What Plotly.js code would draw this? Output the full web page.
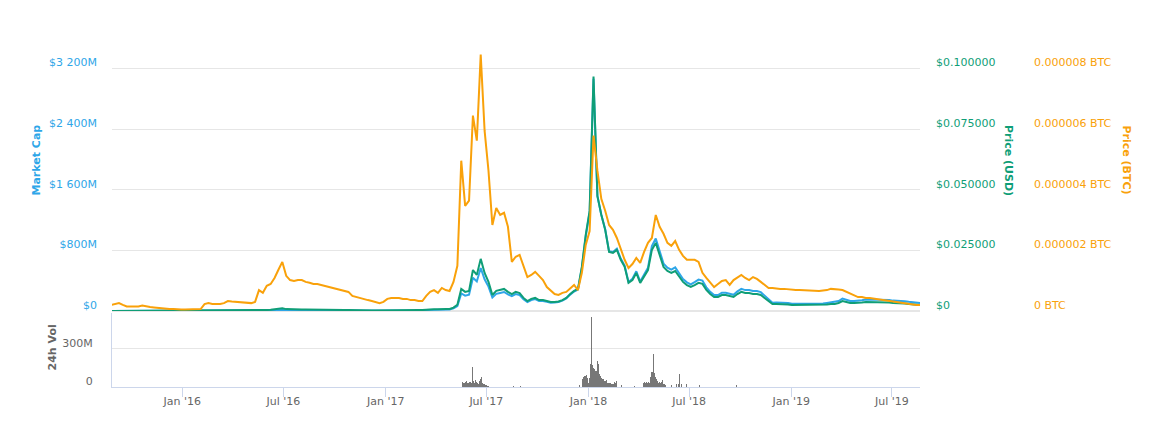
<!DOCTYPE html>
<html>
<head>
<meta charset="utf-8">
<script src="https://cdn.plot.ly/plotly-3.0.1.min.js"></script>
<style>
html,body{margin:0;padding:0;background:#fff;}
#chart{width:1159px;height:426px;}
</style>
</head>
<body>
<div id="chart"></div>
<script>
// ---- data (weekly samples starting 2015-08-26) ----
const seriesStart = '2015-08-26';
const seriesStepDays = 7;

// Market cap, in millions of USD
const marketCapM = [
0.16,0.2,0.25,0.21,0.17,0.18,0.19,0.2,0.26,0.24,
0.34,0.25,0.23,0.26,0.24,0.22,0.25,0.19,0.18,0.19,
0.17,0.19,0.18,0.24,0.89,1.1,1.03,1.09,1.07,1.25,
1.6,1.55,1.53,1.57,1.59,1.54,1.57,1.81,4.4,3.9,
6.4,7.5,11.2,13.1,16.4,12,10.3,10.5,10.8,9.5,
9.5,8.9,8.8,8.8,9.1,8.9,8.6,8.4,8.3,8.2,
8.2,8.3,6.8,6.5,6.4,6,5.7,5.1,4.8,4.6,
6.1,9.4,7.3,8.5,8.8,8.7,9.4,8.1,8.7,9.2,
9.6,13.5,15,17,16.5,22,20.4,20.8,35,66,
231,202,214,439,390,568,418,322,178,226,
238,251,220,196,223,210,154,118,145,157,
131,132,121,110,111,118,137,165,216,257,
282,568,986,1305,3065,1515,1270,1079,788,780,
822,692,599,384,425,524,389,472,571,857,
958,792,626,571,545,576,490,422,378,351,
381,414,401,313,253,210,211,241,242,228,
214,259,293,276,277,263,263,249,205,156,
110,111,111,104,104,97,97,97,94,98,
94,99,99,99,107,115,116,132,164,149,
133,133,134,142,151,151,151,152,152,144,
145,137,137,137,129,121,113,105,105
];

// Price in USD
const priceUsd = [
0.000046,0.000054,0.000063,0.000048,0.000036,0.000036,0.000036,0.000036,0.000044,0.000039,
0.000053,0.000038,0.000033,0.000036,0.000032,0.000028,0.00003,0.000022,0.000021,0.000021,
0.000019,0.00002,0.000019,0.000024,0.000088,0.000106,0.000097,0.0001,0.000096,0.00011,
0.000137,0.00013,0.000125,0.000127,0.000125,0.000119,0.000119,0.000135,0.00032,0.00028,
0.00045,0.00052,0.00076,0.00088,0.00108,0.00078,0.00066,0.00066,0.00067,0.00058,
0.00057,0.00053,0.00052,0.00051,0.00052,0.0005,0.00048,0.00046,0.00045,0.00044,
0.00043,0.00043,0.00035,0.00033,0.00032,0.0003,0.00028,0.00025,0.00023,0.00022,
0.00029,0.00044,0.00034,0.00039,0.0004,0.00039,0.00042,0.00036,0.00038,0.0004,
0.00041,0.00057,0.00063,0.00071,0.00068,0.0009,0.00083,0.00084,0.0014,0.0026,
0.0091,0.0079,0.0083,0.0169,0.0149,0.0215,0.0157,0.012,0.0066,0.0083,
0.0087,0.0091,0.0079,0.007,0.0079,0.0074,0.0054,0.0041,0.005,0.0054,
0.0045,0.0045,0.0041,0.0037,0.0037,0.0039,0.0045,0.0054,0.007,0.0083,
0.0091,0.0182,0.0314,0.0413,0.0967,0.0475,0.0397,0.0335,0.0244,0.024,
0.0252,0.0211,0.0182,0.0116,0.0128,0.0157,0.0116,0.014,0.0169,0.0252,
0.0281,0.0231,0.0182,0.0165,0.0157,0.0165,0.014,0.012,0.0107,0.0099,
0.0107,0.0116,0.0112,0.0087,0.007,0.0058,0.0058,0.0066,0.0066,0.0062,
0.0058,0.007,0.0079,0.0074,0.0074,0.007,0.007,0.0066,0.0054,0.0041,
0.0029,0.0029,0.0029,0.0027,0.0027,0.0025,0.0025,0.0025,0.0024,0.0025,
0.0024,0.0025,0.0025,0.0025,0.0027,0.0029,0.0029,0.0033,0.0041,0.0037,
0.0033,0.0033,0.0033,0.0035,0.0037,0.0037,0.0037,0.0037,0.0037,0.0035,
0.0035,0.0033,0.0033,0.0033,0.0031,0.0029,0.0027,0.0025,0.0025
];

// Price in BTC, expressed in millionths of a BTC
const priceBtcMicro = [
0.20,0.23,0.26,0.20,0.15,0.15,0.15,0.15,0.18,0.15,
0.13,0.116,0.10,0.10,0.083,0.066,0.066,0.05,0.05,0.05,
0.05,0.05,0.05,0.066,0.23,0.26,0.23,0.23,0.23,0.26,
0.33,0.31,0.30,0.30,0.28,0.26,0.26,0.30,0.69,0.60,
0.83,0.89,1.09,1.36,1.62,1.16,1.02,0.99,1.02,1.02,
0.96,0.93,0.89,0.89,0.86,0.83,0.79,0.76,0.73,0.69,
0.66,0.63,0.50,0.46,0.43,0.40,0.36,0.33,0.30,0.26,
0.30,0.40,0.43,0.43,0.43,0.40,0.40,0.36,0.36,0.33,
0.33,0.50,0.63,0.69,0.60,0.76,0.69,0.66,0.96,1.49,
4.96,3.47,3.64,6.45,5.62,8.46,5.95,4.63,2.84,3.40,
3.17,3.24,2.78,1.62,1.79,1.85,1.45,1.12,1.19,1.29,
1.16,1.02,0.79,0.66,0.56,0.53,0.60,0.63,0.76,0.86,
0.69,1.26,2.18,2.64,5.79,4.63,3.70,3.31,2.84,2.68,
2.41,2.05,1.69,1.42,1.55,1.75,1.59,1.95,2.25,2.41,
3.17,2.78,2.55,2.25,2.15,2.31,2.02,1.82,1.69,1.69,
1.69,1.62,1.26,1.09,0.93,0.79,0.89,0.99,1.02,0.86,
1.02,1.12,1.19,1.09,1.02,1.12,1.06,0.96,0.86,0.76,
0.76,0.74,0.73,0.73,0.71,0.69,0.69,0.69,0.68,0.68,
0.66,0.66,0.66,0.68,0.69,0.73,0.73,0.71,0.69,0.63,
0.56,0.50,0.46,0.46,0.43,0.43,0.41,0.40,0.36,0.35,
0.33,0.30,0.28,0.26,0.25,0.23,0.21,0.20,0.20
];

// 24h volume, millions of USD: daily runs
const volRun1Start = '2017-05-17';
const volRun1M = [0,25,40,35,28,30,30,22,38,45,50,32,28,35,30,38,45,40,30,60,160,70,45,40,35,42,55,40,30,28,35,25,30,45,50,65,80,40,30,30,22,25,20,30,18,12,10,8,15,10,8];
const volRun2Start = '2017-12-20';
const volRun2M = [40,60,100,80,70,87,84,90,95,80,75,30,30,55,70,190,185,553,180,175,160,150,135,140,130,125,130,150,205,200,180,120,100,95,90,75,70,65,70,60,55,45,40,45,55,40,35,32,30,28,30,25,30,20,18,25,22,25,40,40,30,35,45];
const volRun3Start = '2018-04-10';
const volRun3M = [30,35,40,30,35,40,45,35,30,38,40,35,50,80,118,90,120,229,260,355,110,80,79,60,55,45,40,35,38,40,35,30,38,45,55,35,25,22,25,20,15];
// isolated days
const volSparseDates = ['2017-07-11','2017-07-17','2017-07-26','2017-08-13','2017-08-19','2017-09-01','2017-12-04','2017-12-16','2018-03-01','2018-03-25','2018-05-24','2018-05-30','2018-06-08','2018-06-12','2018-06-14','2018-06-17','2018-06-26','2018-07-08','2018-07-20','2018-07-26','2018-08-31','2018-09-24','2018-10-04'];
const volSparseM = [20,12,12,8,10,8,55,15,15,10,15,12,20,25,100,20,20,15,15,10,8,15,15];

// tick labels
const capTickVals = [0, 800e6, 1600e6, 2400e6, 3200e6, 4000e6];
const capTickText = ['$0', '$800M', '$1 600M', '$2 400M', '$3 200M', ''];
const usdTickVals = [0, 0.025, 0.05, 0.075, 0.1];
const usdTickText = ['$0', '$0.025000', '$0.050000', '$0.075000', '$0.100000'];
const btcTickVals = [0, 2e-6, 4e-6, 6e-6, 8e-6];
const btcTickText = ['0 BTC', '0.000002 BTC', '0.000004 BTC', '0.000006 BTC', '0.000008 BTC'];
const volTickVals = [0, 300e6];
const volTickText = ['0', '300M'];

// ---- build ----
const DAY = 86400000;
const iso = t => new Date(t).toISOString().slice(0, 10);
const t0 = Date.parse(seriesStart);
const dates = priceUsd.map((_, i) => iso(t0 + i * seriesStepDays * DAY));
const runDates = (start, vals) => { const s = Date.parse(start); return vals.map((_, i) => iso(s + i * DAY)); };

const volX = [].concat(runDates(volRun1Start, volRun1M), runDates(volRun2Start, volRun2M), runDates(volRun3Start, volRun3M), volSparseDates);
const volY = [].concat(volRun1M, volRun2M, volRun3M, volSparseM).map(v => v * 1e6);

const BLUE = '#2ea6e8', GREEN = '#0f9e77', ORANGE = '#f9a10a', GRAY = '#666666';
const FONT = 'DejaVu Sans, Verdana, sans-serif';

const traces = [
  {x: dates, y: marketCapM.map(v => v * 1e6), type: 'scatter', mode: 'lines', xaxis: 'x', yaxis: 'y',
   line: {color: BLUE, width: 2}, name: 'Market Cap'},
  {x: dates, y: priceUsd, type: 'scatter', mode: 'lines', xaxis: 'x', yaxis: 'y2',
   line: {color: GREEN, width: 2}, name: 'Price (USD)'},
  {x: dates, y: priceBtcMicro.map(v => v * 1e-6), type: 'scatter', mode: 'lines', xaxis: 'x', yaxis: 'y3',
   line: {color: ORANGE, width: 2}, name: 'Price (BTC)'},
  {x: volX, y: volY, type: 'bar', xaxis: 'x', yaxis: 'y4', width: DAY,
   marker: {color: '#777777', line: {width: 0}}, name: '24h Vol'}
];

const L = 112, R = 20, PW = 1159 - L - R, T = 8, B = 39, PH = 426 - T - B;
const px2x = p => (p - L) / PW;
const px2y = p => (426 - B - p) / PH;

const layout = {
  width: 1159, height: 426,
  margin: {l: L, r: R, t: T, b: B, pad: 0},
  paper_bgcolor: '#ffffff', plot_bgcolor: '#ffffff',
  showlegend: false, hovermode: false, bargap: 0,
  font: {family: FONT, size: 11, color: GRAY},
  xaxis: {
    domain: [0, px2x(920)], anchor: 'y4', type: 'date',
    range: ['2015-08-27 12:00', '2019-08-20 12:00'],
    tickformat: "%b '%y", dtick: 'M6', tick0: '2016-01-01',
    ticks: 'outside', ticklen: 9, tickwidth: 1, tickcolor: '#ccd6eb',
    ticklabelstandoff: -5,
    showline: true, linecolor: '#ccd6eb', linewidth: 1,
    showgrid: false, zeroline: false,
    tickfont: {family: FONT, size: 11, color: GRAY}
  },
  yaxis: {
    domain: [px2y(311), 1], range: [0, 4000e6],
    tickmode: 'array', tickvals: capTickVals, ticktext: capTickText,
    showgrid: true, gridcolor: '#e6e6e6', gridwidth: 1,
    zeroline: true, zerolinecolor: '#e6e6e6', zerolinewidth: 2,
    showline: false, ticks: '',
    ticklabelstandoff: 14, ticklabelshift: -6,
    tickfont: {family: FONT, size: 11, color: BLUE}
  },
  yaxis2: {
    overlaying: 'y', side: 'right', anchor: 'x', range: [0, 0.125],
    tickmode: 'array', tickvals: usdTickVals, ticktext: usdTickText,
    showgrid: false, zeroline: false, showline: false, ticks: '',
    ticklabelstandoff: 15, ticklabelshift: -6,
    tickfont: {family: FONT, size: 11, color: GREEN}
  },
  yaxis3: {
    overlaying: 'y', side: 'right', anchor: 'free', position: px2x(1018), range: [0, 10e-6],
    tickmode: 'array', tickvals: btcTickVals, ticktext: btcTickText,
    showgrid: false, zeroline: false, showline: false, ticks: '',
    ticklabelstandoff: 15, ticklabelshift: -6,
    tickfont: {family: FONT, size: 11, color: ORANGE}
  },
  yaxis4: {
    domain: [0, px2y(313)], range: [0, 584e6], anchor: 'x',
    tickmode: 'array', tickvals: volTickVals, ticktext: volTickText,
    showgrid: true, gridcolor: '#e6e6e6', zeroline: false,
    showline: true, linecolor: '#ccd6eb', linewidth: 1, ticks: '',
    ticklabelstandoff: 16, ticklabelshift: -6,
    tickfont: {family: FONT, size: 11, color: GRAY}
  },
  annotations: [
    {text: '<b>Market Cap</b>', xref: 'paper', yref: 'paper', x: px2x(35.5), y: px2y(160),
     textangle: -90, showarrow: false, xanchor: 'center', yanchor: 'middle',
     font: {family: FONT, size: 11, color: BLUE}},
    {text: '<b>24h Vol</b>', xref: 'paper', yref: 'paper', x: px2x(51.5), y: px2y(348),
     textangle: -90, showarrow: false, xanchor: 'center', yanchor: 'middle',
     font: {family: FONT, size: 11, color: GRAY}},
    {text: '<b>Price (USD)</b>', xref: 'paper', yref: 'paper', x: px2x(1009), y: px2y(160),
     textangle: 90, showarrow: false, xanchor: 'center', yanchor: 'middle',
     font: {family: FONT, size: 11, color: GREEN}},
    {text: '<b>Price (BTC)</b>', xref: 'paper', yref: 'paper', x: px2x(1126.5), y: px2y(160),
     textangle: 90, showarrow: false, xanchor: 'center', yanchor: 'middle',
     font: {family: FONT, size: 11, color: ORANGE}}
  ]
};

Plotly.newPlot('chart', traces, layout, {displayModeBar: false, staticPlot: true});
</script>
</body>
</html>
